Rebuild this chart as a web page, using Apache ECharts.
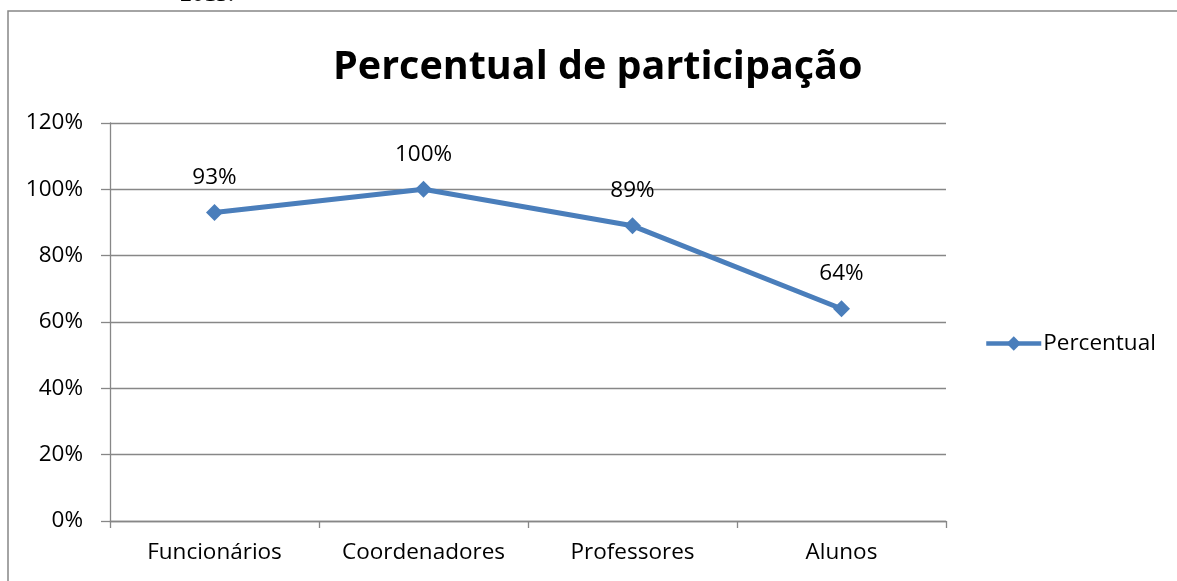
<!DOCTYPE html>
<html><head><meta charset="utf-8">
<script src="https://cdn.jsdelivr.net/npm/echarts@6/dist/echarts.min.js"></script>
<style>html,body{margin:0;padding:0;background:#fff}#c{width:1177px;height:581px}</style>
</head><body><div id="c"></div>
<script>
const categories = ['Funcionários', 'Coordenadores', 'Professores', 'Alunos'];
const percentual = [93, 100, 89, 64];
const yTicks = [0, 20, 40, 60, 80, 100, 120];
const seriesName = 'Percentual';
const titleText = 'Percentual de participação';

const font = '"Open Sans", "Noto Sans", sans-serif';
const chart = echarts.init(document.getElementById('c'), null, {renderer: 'canvas'});
chart.setOption({
  animation: false,
  backgroundColor: '#fff',
  graphic: [
    {type: 'rect', shape: {x: 8, y: 11, width: 1300, height: 700}, style: {fill: 'none', stroke: '#878787', lineWidth: 1.5}, z: 0},
    {type: 'text', x: 180, y: -17, style: {text: '2013.', font: '24px "Liberation Serif", serif', fill: '#000', verticalAlign: 'top'}}
  ],
  title: {text: titleText, left: 328, top: 43, textStyle: {fontFamily: font, fontWeight: 'bold', fontSize: 39.5, color: '#000'}},
  legend: {left: 979, top: 327, itemWidth: 55, itemHeight: 18, itemGap: 5,
    lineStyle: {width: 4.5, color: '#4a7ebb'},
    textStyle: {fontFamily: font, fontSize: 22.5, color: '#000', padding: [0, 0, 0, -3]}, data: [seriesName]},
  grid: {left: 110, right: 231, top: 123, bottom: 60},
  xAxis: {type: 'category', data: categories, boundaryGap: true,
    axisLine: {lineStyle: {color: '#878787', width: 1.3}},
    axisTick: {show: true, interval: 0, length: 7, lineStyle: {color: '#878787', width: 1.3}},
    axisLabel: {interval: 0, fontFamily: font, fontSize: 22.5, color: '#000', margin: 20}},
  yAxis: {type: 'value', min: 0, max: 120, interval: 20,
    axisLine: {show: true, lineStyle: {color: '#878787', width: 1.3}},
    axisTick: {show: true, length: 9, lineStyle: {color: '#878787', width: 1.3}},
    splitLine: {lineStyle: {color: '#878787', width: 1.3}},
    axisLabel: {fontFamily: font, fontSize: 22.5, color: '#000', margin: 27,
      formatter: v => yTicks.includes(v) ? v + '%' : ''}},
  series: [{name: seriesName, type: 'line', data: percentual,
    symbol: 'diamond', symbolSize: 17,
    lineStyle: {color: '#4a7ebb', width: 5},
    itemStyle: {color: '#4a7ebb'},
    label: {show: true, position: 'top', distance: 15, formatter: p => p.value + '%',
      fontFamily: font, fontSize: 22.5, color: '#000'}}]
});
</script></body></html>
